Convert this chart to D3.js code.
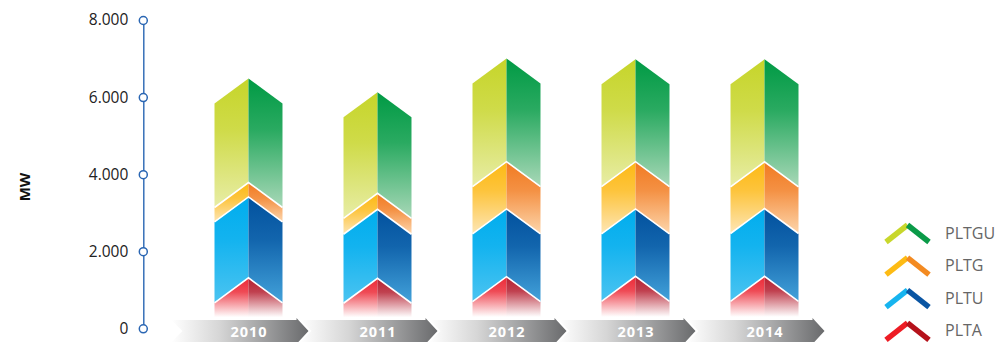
<!DOCTYPE html>
<html>
<head>
<meta charset="utf-8">
<script src="https://cdn.jsdelivr.net/npm/d3@7"></script>
<style>
  html, body { margin: 0; padding: 0; background: #fff; }
  svg { display: block; }
</style>
</head>
<body>
<svg id="chart" width="1001" height="342"></svg>
<script>
// ---- data ----
const years = ["2010", "2011", "2012", "2013", "2014"];
const seriesNames = ["PLTA", "PLTU", "PLTG", "PLTGU"];
const plta  = [660, 650, 690, 700, 700];
const pltu  = [2100, 1790, 1760, 1750, 1760];
const pltg  = [375, 415, 1225, 1225, 1210];
const pltgu = [2700, 2620, 2680, 2660, 2660];
const yTicks = [0, 2000, 4000, 6000, 8000];
const legendOrder = ["PLTGU", "PLTG", "PLTU", "PLTA"];

// ---- styles ----
const colors = {
  PLTA:  { tl: "#ec2a37", bl: "#ffffff", td: "#b51f30", bd: "#ffffff", fade: true,  ll: "#ed1c24", ld: "#b5121b" },
  PLTU:  { tl: "#00adee", bl: "#4cc4f1", td: "#02519e", bd: "#43a2da", fade: false, ll: "#16b4ef", ld: "#0a55a3" },
  PLTG:  { tl: "#fdb913", bl: "#fde6b6", td: "#f17a21", bd: "#fdd6ac", fade: false, ll: "#fdbb14", ld: "#f38a21" },
  PLTGU: { tl: "#c6d52a", bl: "#e8eda6", td: "#009a44", bd: "#a9d8b8", fade: false, ll: "#c8d72c", ld: "#0a9a48" }
};

const table = years.map((yr, i) => ({
  year: yr, PLTA: plta[i], PLTU: pltu[i], PLTG: pltg[i], PLTGU: pltgu[i]
}));

const svg = d3.select("#chart");
const defs = svg.append("defs");

const y = d3.scaleLinear().domain([0, 8000]).range([328.3, 20]);
const x = d3.scaleBand().domain(years).range([214.5, 798.5]).paddingInner(0.473).paddingOuter(0);
const bw = x.bandwidth();
const ch = 25; // chevron height

// gradients
seriesNames.forEach(s => {
  const c = colors[s];
  [["L", c.tl, c.bl], ["R", c.td, c.bd]].forEach(([side, top, bot]) => {
    const g = defs.append("linearGradient").attr("id", "g" + s + side)
      .attr("x1", 0).attr("y1", 0).attr("x2", 0).attr("y2", 1);
    g.append("stop").attr("offset", "0%").attr("stop-color", top);
    if (c.fade) {
      g.append("stop").attr("offset", "28%").attr("stop-color", top).attr("stop-opacity", 0.85);
      g.append("stop").attr("offset", "78%").attr("stop-color", top).attr("stop-opacity", 0.0);
      g.append("stop").attr("offset", "100%").attr("stop-color", top).attr("stop-opacity", 0.0);
    } else {
      g.append("stop").attr("offset", "40%").attr("stop-color", d3.interpolateRgb(top, bot)(0.25));
      g.append("stop").attr("offset", "100%").attr("stop-color", bot);
    }
  });
});

// band gradient
const bg = defs.append("linearGradient").attr("id", "band").attr("x1", 0).attr("y1", 0).attr("x2", 1).attr("y2", 0);
bg.append("stop").attr("offset", "0%").attr("stop-color", "#ffffff");
bg.append("stop").attr("offset", "35%").attr("stop-color", "#d6d6d6");
bg.append("stop").attr("offset", "100%").attr("stop-color", "#696a6c");

// ---- bars ----
const stack = d3.stack().keys(seriesNames)(table);
const barsG = svg.append("g");
stack.forEach((layer, li) => {
  const s = layer.key;
  layer.forEach(d => {
    const yr = d.data.year;
    const xl = x(yr), xr = xl + bw, xc = xl + bw / 2;
    const yT = y(d[1]);
    const yB = y(d[0]);
    const yBc = d[0] === 0 ? yB : yB - ch;
    const left = [[xl, yT], [xc, yT - ch], [xc, yBc], [xl, yB]];
    const right = [[xc, yT - ch], [xr, yT], [xr, yB], [xc, yBc]];
    barsG.append("path").attr("d", "M" + left.join("L") + "Z").attr("fill", `url(#g${s}L)`);
    barsG.append("path").attr("d", "M" + right.join("L") + "Z").attr("fill", `url(#g${s}R)`);
  });
});
// separators
stack.forEach((layer, li) => {
  if (li === stack.length - 1) return;
  layer.forEach(d => {
    const yr = d.data.year;
    const xl = x(yr), xr = xl + bw, xc = xl + bw / 2;
    const yT = y(d[1]);
    barsG.append("path")
      .attr("d", `M${xl},${yT}L${xc},${yT - ch}L${xr},${yT}`)
      .attr("fill", "none").attr("stroke", "#ffffff").attr("stroke-width", 1.6);
  });
});

// ---- x bands ----
const bandG = svg.append("g");
years.forEach(yr => {
  const xc = x(yr) + bw / 2;
  const s0 = xc - 77, e0 = xc + 48, tip = xc + 60;
  const pts = [[s0, 320], [e0, 320], [e0, 318], [tip, 331], [e0, 344], [e0, 342], [s0, 342], [s0 + 11, 331]];
  bandG.append("path").attr("d", "M" + pts.join("L") + "Z").attr("fill", "url(#band)");
  bandG.append("text").attr("x", xc + 0.5).attr("y", 337)
    .attr("text-anchor", "middle")
    .attr("font-family", "'Open Sans', sans-serif")
    .attr("font-weight", "bold").attr("font-size", 14.5)
    .attr("letter-spacing", 1)
    .attr("fill", "#ffffff").text(yr);
});

// ---- y axis ----
const locale = d3.formatLocale({ decimal: ",", thousands: ".", grouping: [3], currency: ["", ""] });
const fmt = locale.format(",");
const axisG = svg.append("g").attr("transform", "translate(143.3,0)")
  .call(d3.axisLeft(y).tickValues(yTicks).tickFormat(fmt).tickSize(0).tickSizeOuter(0).tickPadding(15));
axisG.select(".domain").attr("stroke", "#2a66b3").attr("stroke-width", 1.4);
axisG.selectAll(".tick text")
  .attr("font-family", "'Open Sans', sans-serif").attr("font-size", 15.5).attr("fill", "#222");
axisG.selectAll(".tick").append("circle").attr("r", 4)
  .attr("fill", "#fff").attr("stroke", "#2a66b3").attr("stroke-width", 1.5);

svg.append("text").attr("transform", "translate(30,187) rotate(-90)")
  .attr("text-anchor", "middle")
  .attr("font-family", "'Open Sans', sans-serif").attr("font-weight", "bold").attr("font-size", 15)
  .attr("fill", "#111").text("MW");

// ---- legend ----
const lg = svg.append("g");
legendOrder.forEach((s, i) => {
  const py = 225 + i * 32.6;
  const c = colors[s];
  lg.append("path").attr("d", `M886,${py + 17}L907.5,${py}`)
    .attr("stroke", c.ll).attr("stroke-width", 5.5).attr("fill", "none");
  lg.append("path").attr("d", `M907.5,${py}L929,${py + 17}`)
    .attr("stroke", c.ld).attr("stroke-width", 5.5).attr("fill", "none");
  lg.append("text").attr("x", 945).attr("y", py + 13.5)
    .attr("font-family", "'Open Sans', sans-serif").attr("font-size", 16)
    .attr("fill", "#666").text(s);
});
</script>
</body>
</html>
